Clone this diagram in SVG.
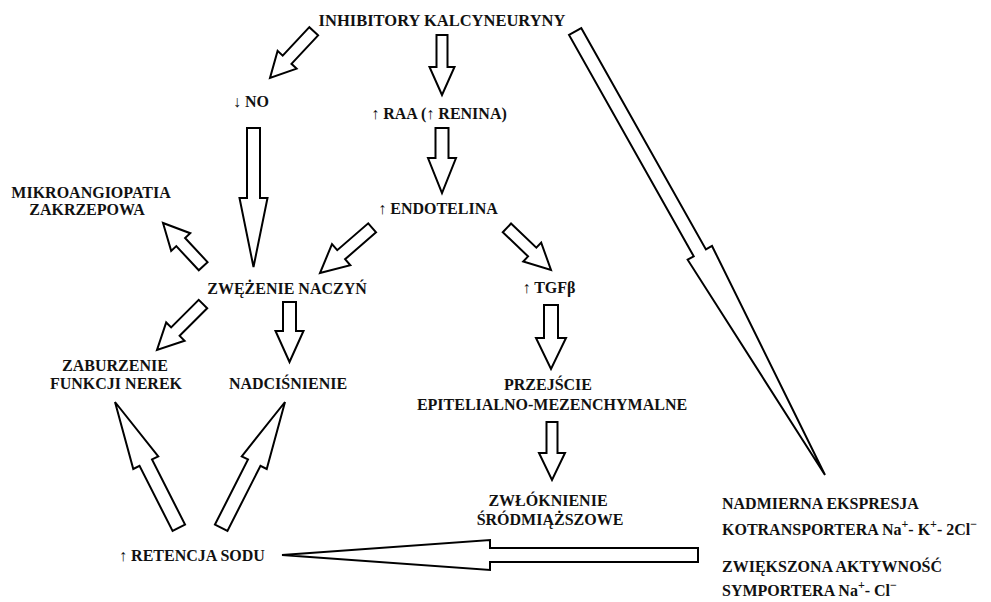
<svg xmlns="http://www.w3.org/2000/svg" width="991" height="602" viewBox="0 0 991 602">
<style>
text{font-family:"Liberation Serif","Times New Roman",serif;font-weight:bold;font-size:16px;fill:#111}
.a{fill:#fff;stroke:#000;stroke-width:2;stroke-linejoin:miter}
.s{font-size:12px}
</style>
<rect width="991" height="602" fill="#fff"/>
<g id="connectors">
<polygon class="a" transform="translate(270,78) rotate(133.1)" points="-64,-6 -25,-6 -25,-13 0,0 -25,13 -25,6 -64,6"/>
<polygon class="a" transform="translate(442,95) rotate(90)" points="-60,-5.5 -28,-5.5 -28,-12.5 0,0 -28,12.5 -28,5.5 -60,5.5"/>
<polygon class="a" transform="translate(825,475) rotate(60.6)" points="-509,-7 -255,-7 -255,-14 0,0 -255,14 -255,7 -509,7"/>
<polygon class="a" transform="translate(253.5,267) rotate(90)" points="-139,-6.5 -69,-6.5 -69,-14 0,0 -69,14 -69,6.5 -139,6.5"/>
<polygon class="a" transform="translate(442,193) rotate(90)" points="-65,-6.5 -35,-6.5 -35,-14 0,0 -35,14 -35,6.5 -65,6.5"/>
<polygon class="a" transform="translate(320,273) rotate(139.1)" points="-69,-6 -28,-6 -28,-14 0,0 -28,14 -28,6 -69,6"/>
<polygon class="a" transform="translate(551,270) rotate(43.7)" points="-61,-6 -26,-6 -26,-13 0,0 -26,13 -26,6 -61,6"/>
<polygon class="a" transform="translate(163,223) rotate(-132.9)" points="-59,-6 -26,-6 -26,-13 0,0 -26,13 -26,6 -59,6"/>
<polygon class="a" transform="translate(157,350) rotate(135)" points="-65,-6 -26,-6 -26,-13 0,0 -26,13 -26,6 -65,6"/>
<polygon class="a" transform="translate(289.5,362) rotate(90)" points="-60,-6.5 -31,-6.5 -31,-14 0,0 -31,14 -31,6.5 -60,6.5"/>
<polygon class="a" transform="translate(115,402) rotate(-116.9)" points="-141,-7 -68,-7 -68,-14 0,0 -68,14 -68,7 -141,7"/>
<polygon class="a" transform="translate(285,402) rotate(-63.1)" points="-141,-7 -68,-7 -68,-14 0,0 -68,14 -68,7 -141,7"/>
<polygon class="a" transform="translate(282,555) rotate(180)" points="-416,-7 -208,-7 -208,-15 0,0 -208,15 -208,7 -416,7"/>
<polygon class="a" transform="translate(551,369) rotate(90)" points="-64,-7 -31,-7 -31,-15 0,0 -31,15 -31,7 -64,7"/>
<polygon class="a" transform="translate(552,480) rotate(90)" points="-58,-5.5 -27,-5.5 -27,-13 0,0 -27,13 -27,5.5 -58,5.5"/>
</g>
<g id="inhibitory"><text x="442" y="26" text-anchor="middle" style="font-size:16.5px">INHIBITORY KALCYNEURYNY</text></g>
<g id="no"><text x="233" y="107">↓ NO</text></g>
<g id="raa"><text x="439" y="119" text-anchor="middle">↑ RAA (↑ RENINA)</text></g>
<g id="mikro"><text x="91" y="198" text-anchor="middle">MIKROANGIOPATIA</text><text x="87" y="215" text-anchor="middle">ZAKRZEPOWA</text></g>
<g id="endotelina"><text x="438" y="214" text-anchor="middle">↑ ENDOTELINA</text></g>
<g id="zwezenie"><text x="287" y="294" text-anchor="middle">ZWĘŻENIE NACZYŃ</text></g>
<g id="tgf"><text x="549" y="293" text-anchor="middle">↑ TGFβ</text></g>
<g id="zaburzenie"><text x="115" y="371" text-anchor="middle">ZABURZENIE</text><text x="116" y="389" text-anchor="middle">FUNKCJI NEREK</text></g>
<g id="nadcisnienie"><text x="288" y="389" text-anchor="middle">NADCIŚNIENIE</text></g>
<g id="przejscie"><text x="548" y="390" text-anchor="middle">PRZEJŚCIE</text><text x="552" y="410" text-anchor="middle">EPITELIALNO-MEZENCHYMALNE</text></g>
<g id="zwloknienie"><text x="548" y="506" text-anchor="middle">ZWŁÓKNIENIE</text><text x="550" y="525" text-anchor="middle">ŚRÓDMIĄŻSZOWE</text></g>
<g id="retencja"><text x="192" y="561" text-anchor="middle">↑ RETENCJA SODU</text></g>
<g id="nadmierna"><text x="722" y="509">NADMIERNA EKSPRESJA</text><text x="722" y="535">KOTRANSPORTERA Na<tspan class="s" dy="-7">+</tspan><tspan dy="7">- K</tspan><tspan class="s" dy="-7">+</tspan><tspan dy="7">- 2Cl</tspan><tspan class="s" dy="-7">−</tspan></text></g>
<g id="zwiekszona"><text x="722" y="572">ZWIĘKSZONA AKTYWNOŚĆ</text><text x="722" y="596">SYMPORTERA Na<tspan class="s" dy="-7">+</tspan><tspan dy="7">- Cl</tspan><tspan class="s" dy="-7">−</tspan></text></g>
</svg>
